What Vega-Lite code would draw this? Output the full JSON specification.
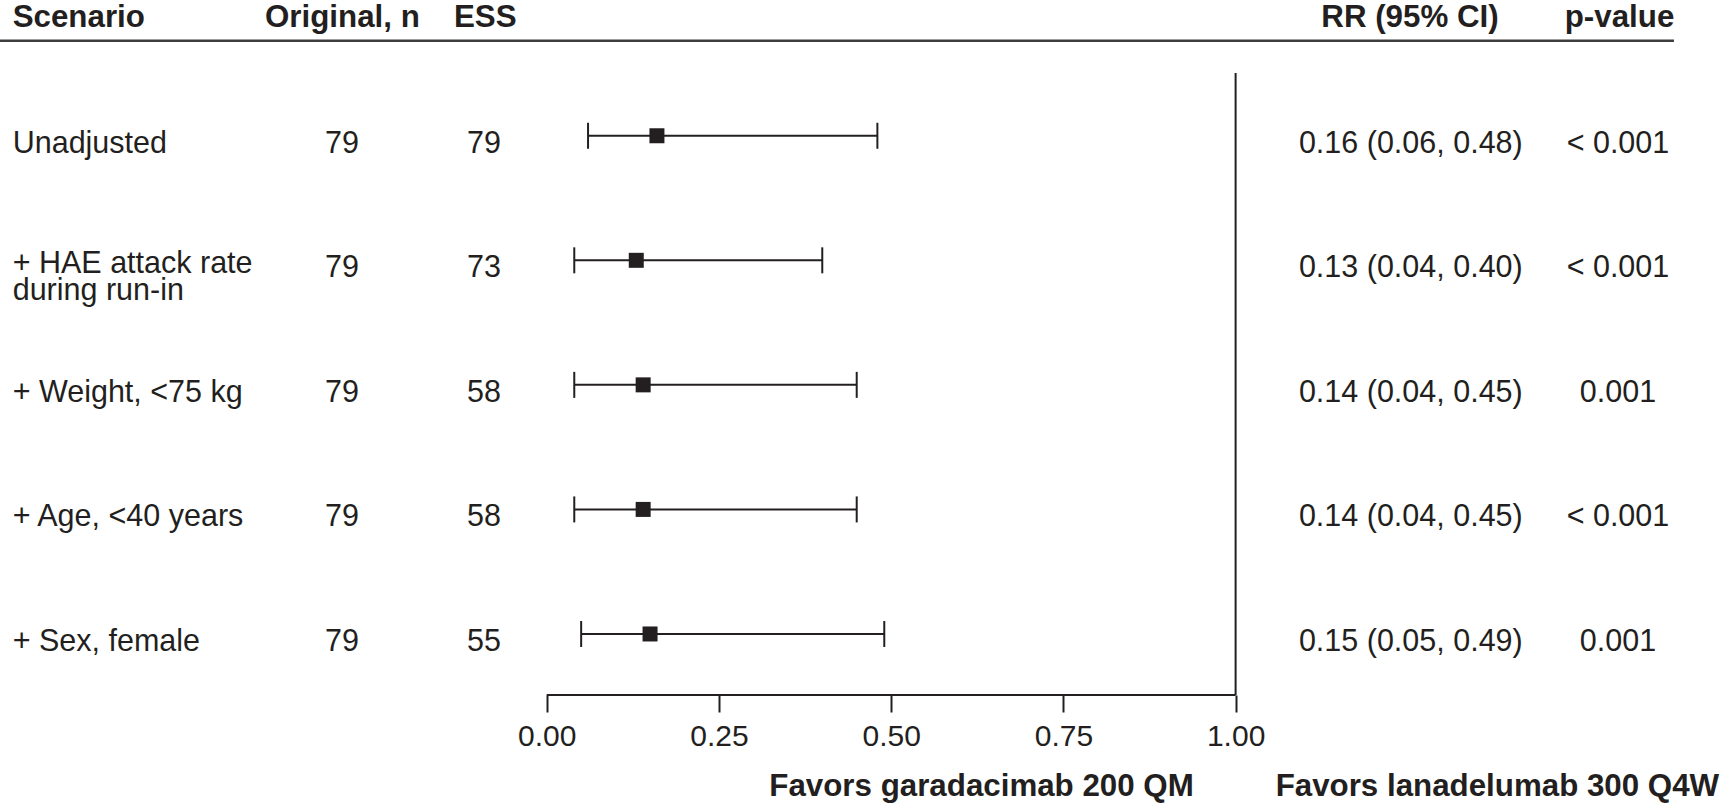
{
  "$schema": "https://vega.github.io/schema/vega-lite/v6.json",
  "width": 1731,
  "height": 695,
  "autosize": {"type": "none"},
  "padding": {"left": 0, "top": 0, "right": 0, "bottom": 117},
  "background": "white",
  "config": {
    "view": {"stroke": null},
    "text": {"font": "Liberation Sans", "fontSize": 30.5, "color": "#231f20"},
    "axisX": {
      "format": ".2f", "title": null,
      "domain": false, "grid": false, "ticks": true,
      "tickSize": 17, "tickWidth": 2, "tickColor": "#231f20",
      "labelFont": "Liberation Sans", "labelFontSize": 30, "labelColor": "#231f20",
      "labelPadding": 9, "labelFlush": false, "labelOverlap": false
    }
  },
  "datasets": {
    "scenarios": [
      {"row": 1, "scenario": "Unadjusted", "original_n": 79, "ess": 79, "rr": 0.16, "lo": 0.06, "hi": 0.48, "rr_ci": "0.16 (0.06, 0.48)", "p": "< 0.001"},
      {"row": 2, "scenario": "+ HAE attack rate\nduring run-in", "original_n": 79, "ess": 73, "rr": 0.13, "lo": 0.04, "hi": 0.40, "rr_ci": "0.13 (0.04, 0.40)", "p": "< 0.001"},
      {"row": 3, "scenario": "+ Weight, <75 kg", "original_n": 79, "ess": 58, "rr": 0.14, "lo": 0.04, "hi": 0.45, "rr_ci": "0.14 (0.04, 0.45)", "p": "0.001"},
      {"row": 4, "scenario": "+ Age, <40 years", "original_n": 79, "ess": 58, "rr": 0.14, "lo": 0.04, "hi": 0.45, "rr_ci": "0.14 (0.04, 0.45)", "p": "< 0.001"},
      {"row": 5, "scenario": "+ Sex, female", "original_n": 79, "ess": 55, "rr": 0.15, "lo": 0.05, "hi": 0.49, "rr_ci": "0.15 (0.05, 0.49)", "p": "0.001"}
    ]
  },
  "data": {"name": "scenarios"},
  "layer": [
    {
      "mark": {"type": "rule", "stroke": "#231f20", "strokeWidth": 2},
      "encoding": {
        "x": {"field": "lo", "type": "quantitative", "title": null, "scale": {"domain": [-0.7936, 1.7191], "nice": false, "zero": false}, "axis": {"values": [0, 0.25, 0.5, 0.75, 1]}},
        "x2": {"field": "hi"},
        "y": {"field": "row", "type": "quantitative", "scale": {"domain": [-0.09, 5.49], "nice": false, "zero": false, "reverse": true}, "axis": null}
      }
    },
    {
      "data": {"values": [{}]},
      "mark": {"type": "rule", "stroke": "#3d3d3d", "strokeWidth": 2.5},
      "encoding": {
        "x": {"datum": -0.7936, "type": "quantitative", "title": null, "scale": {"domain": [-0.7936, 1.7191], "nice": false, "zero": false}},
        "x2": {"datum": 1.6363},
        "y": {"datum": 0.2368, "type": "quantitative", "scale": {"domain": [-0.09, 5.49], "nice": false, "zero": false, "reverse": true}, "axis": null}
      }
    },
    {
      "data": {"values": [{}]},
      "mark": {"type": "rule", "stroke": "#231f20", "strokeWidth": 2},
      "encoding": {
        "x": {"datum": 1, "type": "quantitative", "title": null, "scale": {"domain": [-0.7936, 1.7191], "nice": false, "zero": false}},
        "y": {"datum": 0.4961, "type": "quantitative", "scale": {"domain": [-0.09, 5.49], "nice": false, "zero": false, "reverse": true}, "axis": null},
        "y2": {"datum": 5.49}
      }
    },
    {
      "data": {"values": [{}]},
      "mark": {"type": "rule", "stroke": "#231f20", "strokeWidth": 2},
      "encoding": {
        "x": {"datum": 0, "type": "quantitative", "title": null, "scale": {"domain": [-0.7936, 1.7191], "nice": false, "zero": false}},
        "x2": {"datum": 1},
        "y": {"datum": 5.49, "type": "quantitative", "scale": {"domain": [-0.09, 5.49], "nice": false, "zero": false, "reverse": true}, "axis": null}
      }
    },
    {
      "mark": {"type": "tick", "orient": "vertical", "color": "#231f20", "size": 26, "thickness": 2, "opacity": 1},
      "encoding": {
        "x": {"field": "lo", "type": "quantitative", "title": null, "scale": {"domain": [-0.7936, 1.7191], "nice": false, "zero": false}},
        "y": {"field": "row", "type": "quantitative", "scale": {"domain": [-0.09, 5.49], "nice": false, "zero": false, "reverse": true}, "axis": null}
      }
    },
    {
      "mark": {"type": "tick", "orient": "vertical", "color": "#231f20", "size": 26, "thickness": 2, "opacity": 1},
      "encoding": {
        "x": {"field": "hi", "type": "quantitative", "title": null, "scale": {"domain": [-0.7936, 1.7191], "nice": false, "zero": false}},
        "y": {"field": "row", "type": "quantitative", "scale": {"domain": [-0.09, 5.49], "nice": false, "zero": false, "reverse": true}, "axis": null}
      }
    },
    {
      "mark": {"type": "square", "color": "#231f20", "size": 225, "opacity": 1},
      "encoding": {
        "x": {"field": "rr", "type": "quantitative", "title": null, "scale": {"domain": [-0.7936, 1.7191], "nice": false, "zero": false}},
        "y": {"field": "row", "type": "quantitative", "scale": {"domain": [-0.09, 5.49], "nice": false, "zero": false, "reverse": true}, "axis": null}
      }
    },
    {
      "transform": [{"filter": "datum.row != 2"}],
      "mark": {"type": "text", "align": "left", "baseline": "alphabetic", "dy": 17},
      "encoding": {
        "x": {"datum": -0.7752, "type": "quantitative", "title": null, "scale": {"domain": [-0.7936, 1.7191], "nice": false, "zero": false}},
        "y": {"field": "row", "type": "quantitative", "scale": {"domain": [-0.09, 5.49], "nice": false, "zero": false, "reverse": true}, "axis": null},
        "text": {"field": "scenario"}
      }
    },
    {
      "transform": [{"filter": "datum.row == 2"}],
      "mark": {"type": "text", "align": "left", "baseline": "alphabetic", "dy": 12.5, "lineBreak": "\n", "lineHeight": 27},
      "encoding": {
        "x": {"datum": -0.7752, "type": "quantitative", "title": null, "scale": {"domain": [-0.7936, 1.7191], "nice": false, "zero": false}},
        "y": {"field": "row", "type": "quantitative", "scale": {"domain": [-0.09, 5.49], "nice": false, "zero": false, "reverse": true}, "axis": null},
        "text": {"field": "scenario"}
      }
    },
    {
      "mark": {"type": "text", "align": "center", "baseline": "alphabetic", "dy": 17},
      "encoding": {
        "x": {"datum": -0.2972, "type": "quantitative", "title": null, "scale": {"domain": [-0.7936, 1.7191], "nice": false, "zero": false}},
        "y": {"field": "row", "type": "quantitative", "scale": {"domain": [-0.09, 5.49], "nice": false, "zero": false, "reverse": true}, "axis": null},
        "text": {"field": "original_n"}
      }
    },
    {
      "mark": {"type": "text", "align": "center", "baseline": "alphabetic", "dy": 17},
      "encoding": {
        "x": {"datum": -0.091, "type": "quantitative", "title": null, "scale": {"domain": [-0.7936, 1.7191], "nice": false, "zero": false}},
        "y": {"field": "row", "type": "quantitative", "scale": {"domain": [-0.09, 5.49], "nice": false, "zero": false, "reverse": true}, "axis": null},
        "text": {"field": "ess"}
      }
    },
    {
      "mark": {"type": "text", "align": "center", "baseline": "alphabetic", "dy": 17},
      "encoding": {
        "x": {"datum": 1.2543, "type": "quantitative", "title": null, "scale": {"domain": [-0.7936, 1.7191], "nice": false, "zero": false}},
        "y": {"field": "row", "type": "quantitative", "scale": {"domain": [-0.09, 5.49], "nice": false, "zero": false, "reverse": true}, "axis": null},
        "text": {"field": "rr_ci"}
      }
    },
    {
      "mark": {"type": "text", "align": "center", "baseline": "alphabetic", "dy": 17},
      "encoding": {
        "x": {"datum": 1.555, "type": "quantitative", "title": null, "scale": {"domain": [-0.7936, 1.7191], "nice": false, "zero": false}},
        "y": {"field": "row", "type": "quantitative", "scale": {"domain": [-0.09, 5.49], "nice": false, "zero": false, "reverse": true}, "axis": null},
        "text": {"field": "p"}
      }
    },
    {
      "data": {"values": [{"label": "Scenario", "pos": -0.7752}, {"label": "Original, n", "pos": -0.4089}, {"label": "ESS", "pos": -0.1346}]},
      "mark": {"type": "text", "align": "left", "baseline": "alphabetic", "fontWeight": "bold", "fontSize": 31.3},
      "encoding": {
        "x": {"field": "pos", "type": "quantitative", "title": null, "scale": {"domain": [-0.7936, 1.7191], "nice": false, "zero": false}},
        "y": {"datum": 0.1292, "type": "quantitative", "scale": {"domain": [-0.09, 5.49], "nice": false, "zero": false, "reverse": true}, "axis": null},
        "text": {"field": "label"}
      }
    },
    {
      "data": {"values": [{"label": "RR (95% CI)", "pos": 1.2531}, {"label": "p-value", "pos": 1.5573}]},
      "mark": {"type": "text", "align": "center", "baseline": "alphabetic", "fontWeight": "bold", "fontSize": 31.3},
      "encoding": {
        "x": {"field": "pos", "type": "quantitative", "title": null, "scale": {"domain": [-0.7936, 1.7191], "nice": false, "zero": false}},
        "y": {"datum": 0.1292, "type": "quantitative", "scale": {"domain": [-0.09, 5.49], "nice": false, "zero": false, "reverse": true}, "axis": null},
        "text": {"field": "label"}
      }
    },
    {
      "data": {"values": [{"label": "Favors garadacimab 200 QM", "pos": 0.6312}, {"label": "Favors lanadelumab 300 Q4W", "pos": 1.380}]},
      "mark": {"type": "text", "align": "center", "baseline": "alphabetic", "fontWeight": "bold", "fontSize": 31.3},
      "encoding": {
        "x": {"field": "pos", "type": "quantitative", "title": null, "scale": {"domain": [-0.7936, 1.7191], "nice": false, "zero": false}},
        "y": {"datum": 6.3009, "type": "quantitative", "scale": {"domain": [-0.09, 5.49], "nice": false, "zero": false, "reverse": true}, "axis": null},
        "text": {"field": "label"}
      }
    }
  ]
}
